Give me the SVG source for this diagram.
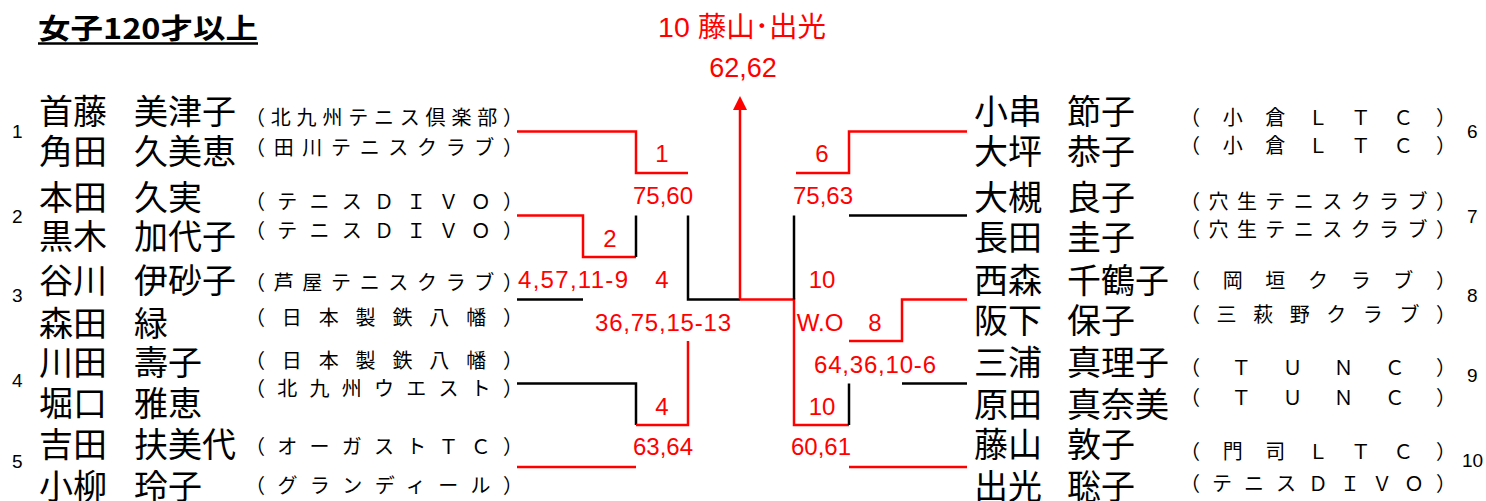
<svg xmlns="http://www.w3.org/2000/svg" width="1486" height="501" viewBox="0 0 1486 501">
<style>
.nm{font-family:"Noto Sans CJK JP",sans-serif;font-size:34px;fill:#000}
.cl{font-family:"Noto Sans CJK JP",sans-serif;font-size:20px;fill:#000}
.no{font-family:"Liberation Sans",sans-serif;font-size:19px;fill:#000}
.sc{font-family:"Liberation Sans","Noto Sans CJK JP",sans-serif;font-size:24px;fill:#ff0000;text-anchor:middle}
.r{stroke:#ff0000;stroke-width:2.5;fill:none}
.k{stroke:#000;stroke-width:2.5;fill:none}
</style>
<rect width="1486" height="501" fill="#fff"/>
<g id="title">
<text x="38" y="39" font-family="Noto Sans CJK JP,sans-serif" font-size="28" font-weight="bold" textLength="220" lengthAdjust="spacingAndGlyphs">女子120才以上</text>
<line x1="38" y1="43.5" x2="258" y2="43.5" stroke="#000" stroke-width="2.5"/>
</g>
<g id="champion">
<text x="742" y="37" class="sc" style="font-size:28.5px">10 藤山･出光</text>
<text x="743" y="77" class="sc" style="font-size:27px">62,62</text>
</g>
<g id="p1">
<text class="no" x="12" y="138">1</text>
<text class="nm" y="124"><tspan x="39">首藤</tspan> <tspan x="134">美津子</tspan></text>
<text class="nm" y="164"><tspan x="39">角田</tspan> <tspan x="134">久美恵</tspan></text>
<text class="cl" x="245" y="125" textLength="278" lengthAdjust="spacing">（北九州テニス倶楽部）</text>
<text class="cl" x="245" y="155" textLength="278" lengthAdjust="spacing">（田川テニスクラブ）</text>
</g>
<g id="p2">
<text class="no" x="12" y="223">2</text>
<text class="nm" y="210"><tspan x="39">本田</tspan> <tspan x="134">久実</tspan></text>
<text class="nm" y="249"><tspan x="39">黒木</tspan> <tspan x="134">加代子</tspan></text>
<text class="cl" x="245" y="209" textLength="278" lengthAdjust="spacing">（テニスＤＩＶＯ）</text>
<text class="cl" x="245" y="238" textLength="278" lengthAdjust="spacing">（テニスＤＩＶＯ）</text>
</g>
<g id="p3">
<text class="no" x="12" y="302">3</text>
<text class="nm" y="293"><tspan x="39">谷川</tspan> <tspan x="134">伊砂子</tspan></text>
<text class="nm" y="336"><tspan x="39">森田</tspan> <tspan x="134">緑</tspan></text>
<text class="cl" x="245" y="290" textLength="278" lengthAdjust="spacing">（芦屋テニスクラブ）</text>
<text class="cl" x="245" y="325" textLength="278" lengthAdjust="spacing">（日本製鉄八幡）</text>
</g>
<g id="p4">
<text class="no" x="12" y="387">4</text>
<text class="nm" y="375"><tspan x="39">川田</tspan> <tspan x="134">壽子</tspan></text>
<text class="nm" y="416"><tspan x="39">堀口</tspan> <tspan x="134">雅恵</tspan></text>
<text class="cl" x="245" y="368" textLength="278" lengthAdjust="spacing">（日本製鉄八幡）</text>
<text class="cl" x="245" y="396" textLength="278" lengthAdjust="spacing">（北九州ウエスト）</text>
</g>
<g id="p5">
<text class="no" x="12" y="468">5</text>
<text class="nm" y="457"><tspan x="39">吉田</tspan> <tspan x="134">扶美代</tspan></text>
<text class="nm" y="499"><tspan x="39">小柳</tspan> <tspan x="134">玲子</tspan></text>
<text class="cl" x="245" y="454" textLength="278" lengthAdjust="spacing">（オーガストＴＣ）</text>
<text class="cl" x="245" y="493" textLength="278" lengthAdjust="spacing">（グランディール）</text>
</g>
<g id="p6">
<text class="no" x="1467" y="138">6</text>
<text class="nm" y="124"><tspan x="974">小串</tspan> <tspan x="1067">節子</tspan></text>
<text class="nm" y="164"><tspan x="974">大坪</tspan> <tspan x="1067">恭子</tspan></text>
<text class="cl" x="1180" y="125" textLength="276" lengthAdjust="spacing">（小倉ＬＴＣ）</text>
<text class="cl" x="1180" y="153" textLength="276" lengthAdjust="spacing">（小倉ＬＴＣ）</text>
</g>
<g id="p7">
<text class="no" x="1467" y="223">7</text>
<text class="nm" y="210"><tspan x="974">大槻</tspan> <tspan x="1067">良子</tspan></text>
<text class="nm" y="250"><tspan x="974">長田</tspan> <tspan x="1067">圭子</tspan></text>
<text class="cl" x="1180" y="209" textLength="276" lengthAdjust="spacing">（穴生テニスクラブ）</text>
<text class="cl" x="1180" y="237" textLength="276" lengthAdjust="spacing">（穴生テニスクラブ）</text>
</g>
<g id="p8">
<text class="no" x="1467" y="302">8</text>
<text class="nm" y="293"><tspan x="974">西森</tspan> <tspan x="1067">千鶴子</tspan></text>
<text class="nm" y="333"><tspan x="974">阪下</tspan> <tspan x="1067">保子</tspan></text>
<text class="cl" x="1180" y="288" textLength="276" lengthAdjust="spacing">（岡垣クラブ）</text>
<text class="cl" x="1180" y="322" textLength="276" lengthAdjust="spacing">（三萩野クラブ）</text>
</g>
<g id="p9">
<text class="no" x="1467" y="382">9</text>
<text class="nm" y="375"><tspan x="974">三浦</tspan> <tspan x="1067">真理子</tspan></text>
<text class="nm" y="417"><tspan x="974">原田</tspan> <tspan x="1067">真奈美</tspan></text>
<text class="cl" x="1180" y="375" textLength="276" lengthAdjust="spacing">（ＴＵＮＣ）</text>
<text class="cl" x="1180" y="405" textLength="276" lengthAdjust="spacing">（ＴＵＮＣ）</text>
</g>
<g id="p10">
<text class="no" x="1462" y="467">10</text>
<text class="nm" y="457"><tspan x="974">藤山</tspan> <tspan x="1067">敦子</tspan></text>
<text class="nm" y="499"><tspan x="974">出光</tspan> <tspan x="1067">聡子</tspan></text>
<text class="cl" x="1180" y="459" textLength="276" lengthAdjust="spacing">（門司ＬＴＣ）</text>
<text class="cl" x="1180" y="491" textLength="276" lengthAdjust="spacing">（テニスＤＩＶＯ）</text>
</g>
<g id="connectors">
<path class="r" d="M517,131.5 H636 V173 H688"/>
<path class="r" d="M517,215.5 H583 V257 H636"/>
<path class="k" d="M636,215.5 V257"/>
<path class="k" d="M517,299.5 H583"/>
<path class="k" d="M688,215.5 V299.5 H740"/>
<path class="k" d="M517,383.5 H636 V425"/>
<path class="r" d="M636,425 H688 V341"/>
<path class="r" d="M517,467 H636"/>
<path class="r" d="M740,299.5 H794 V425 H849"/>
<path class="r" d="M740,299.5 V108"/>
<path d="M733,110 L740,96 L747,110 Z" fill="#ff0000"/>
<path class="k" d="M794,215.5 V299.5"/>
<path class="r" d="M967,131.5 H849 V173 H796"/>
<path class="k" d="M967,215.5 H849"/>
<path class="r" d="M967,299.5 H902 V341 H849"/>
<path class="k" d="M967,383.5 H902"/>
<path class="k" d="M849,383.5 V425"/>
<path class="r" d="M967,467 H849"/>
</g>
<g id="labels">
<text class="sc" x="662" y="162">1</text>
<text class="sc" x="663" y="204">75,60</text>
<text class="sc" x="822" y="162">6</text>
<text class="sc" x="823" y="204">75,63</text>
<text class="sc" x="610" y="247">2</text>
<text class="sc" x="518" y="288" style="text-anchor:start" textLength="110" lengthAdjust="spacing">4,57,11-9</text>
<text class="sc" x="662" y="288">4</text>
<text class="sc" x="822" y="288">10</text>
<text class="sc" x="595" y="331" style="text-anchor:start" textLength="136" lengthAdjust="spacing">36,75,15-13</text>
<text class="sc" x="820" y="331">W.O</text>
<text class="sc" x="875" y="331">8</text>
<text class="sc" x="814" y="373" style="text-anchor:start" textLength="122" lengthAdjust="spacing">64,36,10-6</text>
<text class="sc" x="662" y="415">4</text>
<text class="sc" x="822" y="415">10</text>
<text class="sc" x="663" y="455">63,64</text>
<text class="sc" x="821" y="455">60,61</text>
</g>
</svg>
